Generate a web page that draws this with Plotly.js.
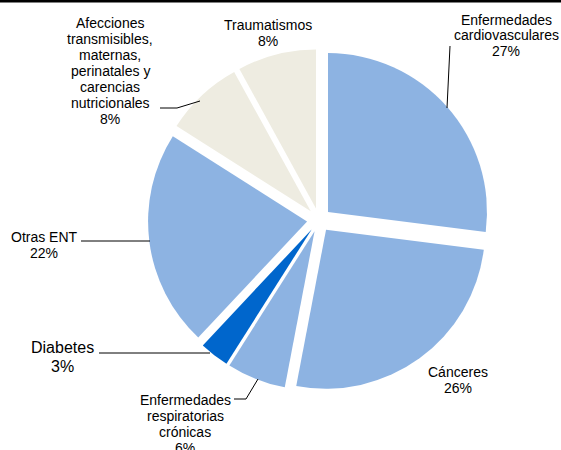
<!DOCTYPE html>
<html>
<head>
<meta charset="utf-8">
<script src="https://cdn.plot.ly/plotly-3.0.1.min.js"></script>
<style>html,body{margin:0;padding:0;background:#fff;}#chart{width:561px;height:450px;}</style>
</head>
<body>
<div id="chart"></div>
<script>
// ---- data ----
const categories = [
  'Enfermedades cardiovasculares',
  'Cánceres',
  'Enfermedades respiratorias crónicas',
  'Diabetes',
  'Otras ENT',
  'Afecciones transmisibles, maternas, perinatales y carencias nutricionales',
  'Traumatismos'
];
const values = [27, 26, 6, 3, 22, 8, 8];
const labelLines = [
  ['Enfermedades', 'cardiovasculares'],
  ['Cánceres'],
  ['Enfermedades', 'respiratorias', 'crónicas'],
  ['Diabetes'],
  ['Otras ENT'],
  ['Afecciones', 'transmisibles,', 'maternas,', 'perinatales y', 'carencias', 'nutricionales'],
  ['Traumatismos']
];
const colors = ['#8DB3E2', '#8DB3E2', '#8DB3E2', '#0066CC', '#8DB3E2', '#EEECE1', '#EEECE1'];

// ---- layout helpers (pixel -> paper) ----
const W = 561, H = 450;
const px = x => x / W;
const py = y => 1 - y / H;

// label block centres, font sizes, line spacing (pixels)
const labelPos = [
  {x: 506, y: 35,  size: 14, lh: 15.5},
  {x: 458, y: 380, size: 14, lh: 15.5},
  {x: 185, y: 424, size: 14, lh: 15.7},
  {x: 62,  y: 357, size: 16, lh: 19},
  {x: 44,  y: 245, size: 14, lh: 16},
  {x: 110, y: 71,  size: 14, lh: 16},
  {x: 268, y: 33,  size: 14, lh: 15.5}
];

// leader lines (pixel polylines)
const leaders = [
  [[450, 46], [447, 108]],
  null,
  [[234, 399], [246, 399], [258, 379]],
  [[99, 353], [210, 353]],
  [[81, 241], [150, 241]],
  [[160, 108], [177, 108], [200, 101]],
  null
];

const annotations = [];
categories.forEach((c, i) => {
  const lines = labelLines[i].concat([values[i] + '%']);
  const p = labelPos[i];
  const n = lines.length;
  lines.forEach((t, k) => {
    const yy = p.y + (k - (n - 1) / 2) * p.lh;
    annotations.push({
      text: t, x: px(p.x), y: py(yy), xref: 'paper', yref: 'paper',
      xanchor: 'center', yanchor: 'middle', showarrow: false,
      font: {family: 'Liberation Sans, Arial, sans-serif', size: p.size, color: '#000'}
    });
  });
});

const shapes = [{
  type: 'rect', xref: 'paper', yref: 'paper', x0: 0, x1: 1, y0: py(2.5), y1: 1,
  fillcolor: '#000', line: {width: 0}
}];
leaders.forEach(l => {
  if (!l) return;
  const d = l.map((pt, k) => (k ? 'L' : 'M') + px(pt[0]) + ',' + py(pt[1])).join(' ');
  shapes.push({type: 'path', xref: 'paper', yref: 'paper', path: d, line: {color: '#000', width: 1}});
});

const trace = {
  type: 'pie',
  labels: categories,
  values: values,
  sort: false,
  direction: 'clockwise',
  rotation: 0,
  pull: 0.0755,
  textinfo: 'none',
  hoverinfo: 'label+percent',
  marker: {colors: colors, line: {width: 0}},
  domain: {x: [0.2638, 0.8734], y: [0.1311, 0.8911]}
};

const layout = {
  width: W, height: H,
  margin: {l: 0, r: 0, t: 0, b: 0},
  paper_bgcolor: '#fff',
  showlegend: false,
  annotations: annotations,
  shapes: shapes
};

Plotly.newPlot('chart', [trace], layout, {displayModeBar: false, staticPlot: true});
</script>
</body>
</html>
